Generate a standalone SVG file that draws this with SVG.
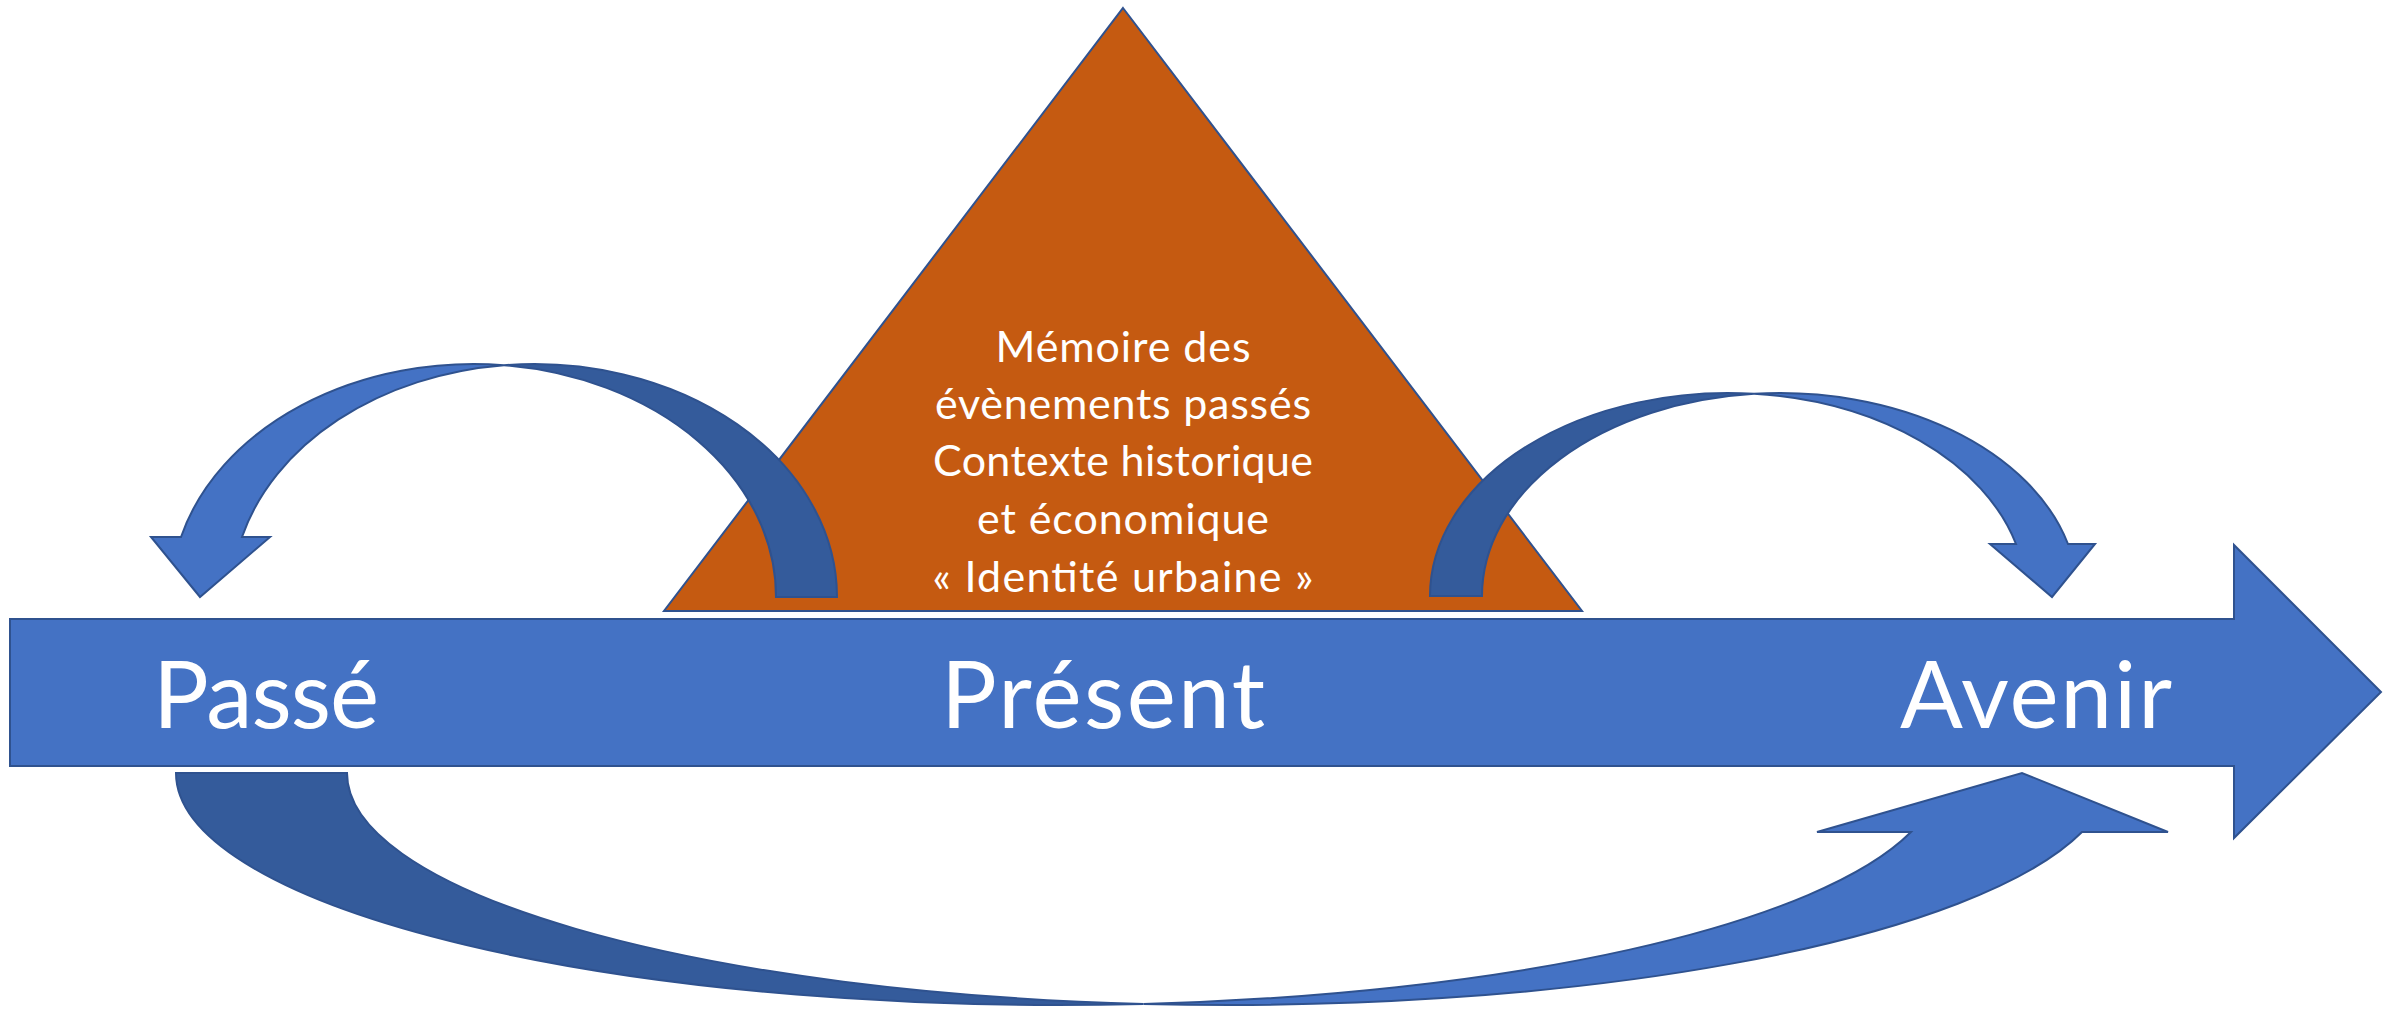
<svg xmlns="http://www.w3.org/2000/svg" width="2399" height="1010" viewBox="0 0 2399 1010">
<style>
.light{fill:#4472C4;stroke:#2F528F;stroke-width:2;stroke-linejoin:miter}
.dark{fill:#345B9B;stroke:#2F528F;stroke-width:2}
.tri{fill:#C55A11;stroke:#2F528F;stroke-width:2}
.big{font-family:Lato,"Open Sans",sans-serif;font-size:93px;fill:#FFFFFF}
.small{font-family:Lato,"Open Sans",sans-serif;font-size:43px;fill:#FFFFFF;text-anchor:middle}
</style>
<rect width="2399" height="1010" fill="#FFFFFF"/>
<g id="triangle">
<polygon class="tri" points="1123,8 1582,611 664,611"/>
<text class="small" x="1123" y="362" textLength="255">Mémoire des</text>
<text class="small" x="1123" y="419" textLength="376">évènements passés</text>
<text class="small" x="1123" y="476" textLength="380">Contexte historique</text>
<text class="small" x="1123" y="534" textLength="292">et économique</text>
<text class="small" x="1123" y="592" textLength="381">« Identité urbaine »</text>
</g>
<g id="timeline">
<polygon class="light" points="10,619 2234,619 2234,545 2381,692 2234,838 2234,766 10,766"/>
<text class="big" x="153" y="728" textLength="226">Passé</text>
<text class="big" x="941" y="728" textLength="324">Présent</text>
<text class="big" x="1900" y="728" textLength="272">Avenir</text>
</g>
<g id="connectors">
<g id="arrow-present-passe">
<path class="dark" d="M504,365.2 A303 233 0 0 1 837,597 L776,597 A303 233 0 0 0 504,365.2 Z"/>
<path class="light" d="M504,365.2 A303 233 0 0 0 181,537 L151,537 L200,597 L270,537 L242,537 A303 233 0 0 1 504,365.2 Z"/>
</g>
<g id="arrow-present-avenir">
<path class="dark" d="M1754,393.8 A298 203 0 0 0 1430,596 L1482,596 A298 203 0 0 1 1754,393.8 Z"/>
<path class="light" d="M1754,393.8 A298 203 0 0 1 2068,544 L2095,544 L2052,597 L1990,544 L2016,544 A298 203 0 0 0 1754,393.8 Z"/>
</g>
<g id="arrow-passe-avenir">
<path class="dark" d="M176,773 A882 232 0 0 0 1143.5,1003.9 A882 232 0 0 1 347,773 Z"/>
<path class="light" d="M1143.5,1003.9 A882 232 0 0 0 2082,832 L2168,832 L2022,773 L1817,832 L1911,832 A882 232 0 0 1 1143.5,1003.9 Z"/>
</g>
</g>
</svg>
